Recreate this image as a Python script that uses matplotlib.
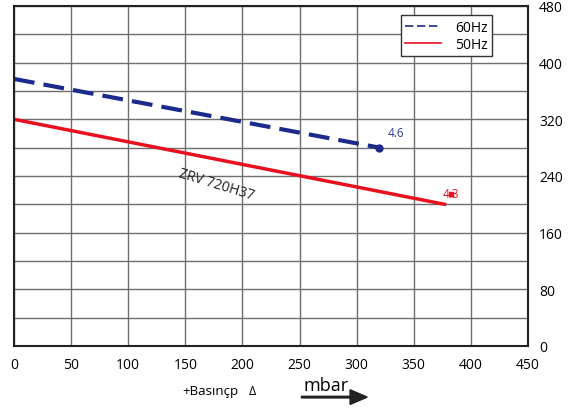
import matplotlib
matplotlib.use("Agg")
from matplotlib import pyplot as plt
import numpy as np

plt.rcParams['font.family'] = ['Open Sans', 'DejaVu Sans']

# pressure (mbar) vs flow
p_60 = [0, 320]
q_60 = [377, 280]
p_50 = [0, 377]
q_50 = [320, 200]

x_ticks = list(range(0, 451, 50))
y_ticks = list(range(0, 481, 80))

fig = plt.figure(figsize=(5.72, 4.10), dpi=100)
ax = fig.add_axes([0.0245, 0.1537, 0.8985, 0.8293])

ax.plot(p_60, q_60, color='#1c2a8c', lw=3, dashes=(5, 2.2), label='60Hz')
ax.plot(p_60[-1], q_60[-1], 'o', color='#1c2a8c', ms=5)
ax.plot(p_50, q_50, color='#e8101e', lw=2.5, label='50Hz')
ax.plot(383, 215, 's', color='#e8101e', ms=3)

ax.text(327, 297, '4.6', color='#2e3a9a', fontsize=8.5)
ax.text(375, 211, '4.3', color='#e8101e', fontsize=8.5)
ax.text(177, 228, 'ZRV 720H37', color='#222222', fontsize=10, rotation=-17,
        ha='center', va='center')

ax.set_xlim(0, 450)
ax.set_ylim(0, 480)
ax.set_xticks(x_ticks)
ax.set_yticks(y_ticks)
ax.set_yticks(range(0, 481, 40), minor=True)
ax.yaxis.tick_right()
ax.tick_params(which='both', length=0, labelsize=10, pad=8)
ax.grid(True, which='both', color='#6e6e6e', lw=1)
for s in ax.spines.values():
    s.set_color('#222222')
    s.set_linewidth(1.5)

leg = ax.legend(loc='upper right', bbox_to_anchor=(0.93, 0.972), fontsize=10,
                fancybox=False, framealpha=1, edgecolor='#333333',
                handlelength=2.6, handletextpad=1.0, borderpad=0.3,
                labelspacing=0.15, borderaxespad=0)
leg.get_frame().set_linewidth(1)
leg.legend_handles[0].set_linewidth(1.2)
leg.legend_handles[1].set_linewidth(1.2)

fig.text(0.318, 0.046, '+Basınçp', fontsize=9.5, ha='left', va='center')
fig.text(0.435, 0.046, 'Δ', fontsize=9, ha='left', va='center')
fig.text(0.531, 0.058, 'mbar', fontsize=13, ha='left', va='center')
fig.patches.append(matplotlib.patches.FancyArrow(
    0.527, 0.029, 0.115, 0, width=0.004, head_width=0.036, head_length=0.03,
    length_includes_head=True, color='#222222', transform=fig.transFigure))

fig.savefig('out.png', dpi=100)
